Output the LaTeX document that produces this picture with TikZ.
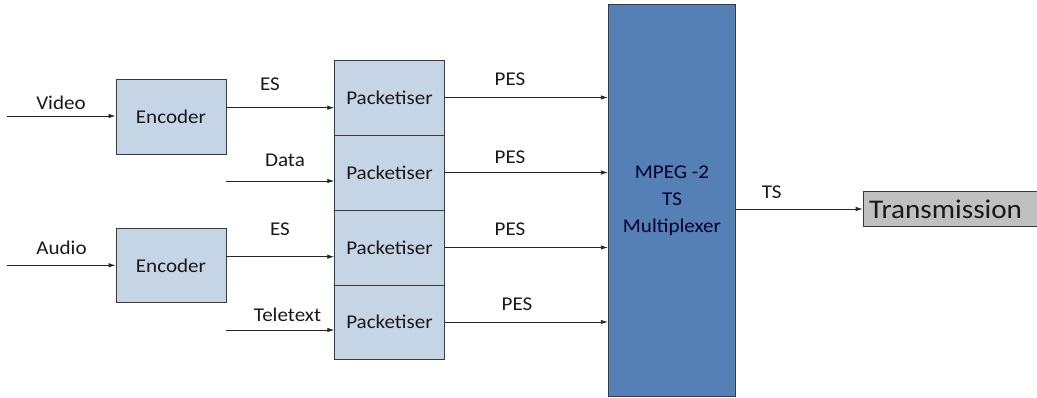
\documentclass[tikz,border=0pt]{standalone}
\usepackage{fontspec}
\setmainfont{Carlito}[FakeStretch=1.08]
\usetikzlibrary{arrows.meta}
\definecolor{lightbox}{HTML}{C6D5E6}
\definecolor{muxblue}{HTML}{5480B6}
\definecolor{boxline}{HTML}{3A3A3A}
\definecolor{txgray}{HTML}{C0C0C0}
\begin{document}
\begin{tikzpicture}[x=1pt,y=-1pt,
  lbl/.style={font=\fontsize{19.5}{22}\selectfont, text=black!90, inner sep=0pt},
  blk/.style={draw=boxline, line width=0.9pt, fill=lightbox, minimum width=110pt, minimum height=75pt, inner sep=0pt, font=\fontsize{19.5}{22}\selectfont, text=black!90},
  arr/.style={draw=black!85, line width=0.8pt, -{Latex[length=7pt,width=4.5pt]}}]
\useasboundingbox (0,0) rectangle (1037,398);
% encoders
\node[blk] (enc1) at (171,116.5) {Encoder};
\node[blk, minimum height=74.4pt] (enc2) at (171,265.5) {Encoder};
% packetisers
\node[blk, minimum width=109.6pt] (pk1) at (389.5,97.5) {Packetiser};
\node[blk, minimum width=109.6pt] (pk2) at (389.5,172.5) {Packetiser};
\node[blk, minimum width=109.6pt] (pk3) at (389.5,247.5) {Packetiser};
\node[blk, minimum width=109.6pt, minimum height=74pt] (pk4) at (389.5,322) {Packetiser};
% multiplexer
\node[draw=boxline, line width=0.9pt, fill=muxblue, minimum width=127.4pt, minimum height=392.7pt, inner sep=0pt, align=center, text=black!80!blue!90!black, font=\fontsize{19.5}{27}\selectfont] (mux) at (672,200.35) {MPEG -2\\TS\\Multiplexer};
% transmission
\node[draw=boxline, line width=0.9pt, fill=txgray, minimum width=180pt, minimum height=35.4pt, inner sep=0pt, anchor=west] (tx) at (862.7,209) {};
\node[anchor=west, inner sep=0pt, font=\fontsize{27}{30}\selectfont, text=black!90] (txt) at (869,209) {Transmission};
% input coordinates
\coordinate (vin) at (7,116);
\coordinate (ain) at (7,265.3);
\coordinate (din) at (226,181);
\coordinate (tin) at (226,330);
% connectors
\draw[arr] (vin) -- (enc1.west |- vin);
\draw[arr] (ain) -- (enc2.west |- ain);
\draw[arr] (enc1.east |- 0,107.7) -- (pk1.west |- 0,107.7);
\draw[arr] (enc2.east |- 0,256.7) -- (pk3.west |- 0,256.7);
\draw[arr] (din) -- (pk2.west |- din);
\draw[arr] (tin) -- (pk4.west |- tin);
\draw[arr] (pk1.east) -- (pk1.east -| mux.west);
\draw[arr] (pk2.east) -- (pk2.east -| mux.west);
\draw[arr] (pk3.east) -- (pk3.east -| mux.west);
\draw[arr] (pk4.east) -- (pk4.east -| mux.west);
\draw[arr] (mux.east |- tx.west) -- (tx.west);
% labels
\node[lbl] (lv) at (61,102.7) {Video};
\node[lbl] (la) at (61.5,247.7) {Audio};
\node[lbl] (les1) at (270,84) {ES};
\node[lbl] (les2) at (280,229) {ES};
\node[lbl] (ld) at (285,160) {Data};
\node[lbl] (lt) at (287.5,315) {Teletext};
\node[lbl] (lp1) at (510,79.3) {PES};
\node[lbl] (lp2) at (510,157.3) {PES};
\node[lbl] (lp3) at (510,229.3) {PES};
\node[lbl] (lp4) at (517,304) {PES};
\node[lbl] (lts) at (771.7,192.7) {TS};
\end{tikzpicture}
\end{document}
